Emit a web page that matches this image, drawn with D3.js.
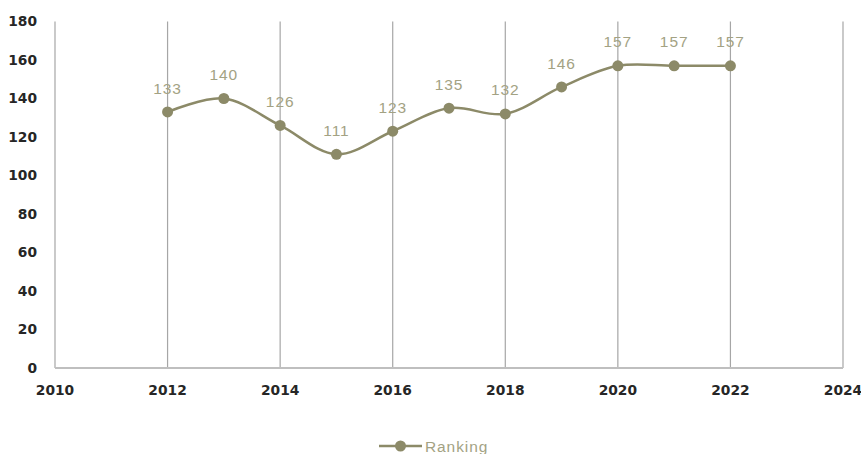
<!DOCTYPE html>
<html><head><meta charset="utf-8">
<script src="https://cdn.jsdelivr.net/npm/d3@7"></script>
<style>
body{margin:0;background:#fff;}
svg{display:block;}
</style></head>
<body><svg id="c" width="861" height="454"></svg>
<script>
const years = [2012,2013,2014,2015,2016,2017,2018,2019,2020,2021,2022];
const ranking = [133,140,126,111,123,135,132,146,157,157,157];
const xTicks = [2010,2012,2014,2016,2018,2020,2022,2024];
const yTicks = [0,20,40,60,80,100,120,140,160,180];
const seriesName = "Ranking";

const svg = d3.select("#c");
const x = d3.scaleLinear().domain([2010,2024]).range([55,843]);
const y = d3.scaleLinear().domain([0,180]).range([368,21.5]);
const lineColor = "#8c8a68", labelColor = "#a3a283";
const font = "'Liberation Sans', Arial, sans-serif";
const boldFont = "'DejaVu Sans', sans-serif";

// vertical gridlines
svg.append("g").selectAll("line").data(xTicks).join("line")
  .attr("x1",d=>x(d)).attr("x2",d=>x(d))
  .attr("y1",y(180)).attr("y2",y(0))
  .attr("stroke","#a6a6a6").attr("stroke-width",1.2);

// bottom axis line
svg.append("line").attr("x1",x(2010)).attr("x2",x(2024))
  .attr("y1",y(0)).attr("y2",y(0)).attr("stroke","#bfbfbf").attr("stroke-width",2);

// y tick labels
svg.append("g").selectAll("text").data(yTicks).join("text")
  .attr("x",37).attr("y",d=>y(d)).attr("dy","0.36em")
  .attr("text-anchor","end").attr("font-family",boldFont).attr("font-weight","bold")
  .attr("font-size",13.8).attr("fill","#262626").text(d=>d);

// x tick labels
svg.append("g").selectAll("text").data(xTicks).join("text")
  .attr("x",d=>x(d)).attr("y",390).attr("dy","0.36em")
  .attr("text-anchor","middle").attr("font-family",boldFont).attr("font-weight","bold")
  .attr("font-size",13.8).attr("fill","#262626").text(d=>d);

const data = years.map((d,i)=>({year:d,value:ranking[i]}));
const line = d3.line().x(d=>x(d.year)).y(d=>y(d.value)).curve(d3.curveCatmullRom.alpha(0.5));
svg.append("path").datum(data).attr("d",line).attr("fill","none")
  .attr("stroke",lineColor).attr("stroke-width",2.5);
svg.append("g").selectAll("circle").data(data).join("circle")
  .attr("cx",d=>x(d.year)).attr("cy",d=>y(d.value)).attr("r",5.5).attr("fill",lineColor);
svg.append("g").selectAll("text").data(data).join("text")
  .attr("x",d=>x(d.year)).attr("y",d=>y(d.value)-24).attr("dy","0.36em")
  .attr("text-anchor","middle").attr("font-family",font).attr("letter-spacing",0.9)
  .attr("font-size",15.5).attr("fill",labelColor).text(d=>d.value);

// legend
const lg = svg.append("g");
lg.append("line").attr("x1",379).attr("x2",422).attr("y1",446).attr("y2",446)
  .attr("stroke",lineColor).attr("stroke-width",2.5);
lg.append("circle").attr("cx",400.5).attr("cy",446).attr("r",5.5).attr("fill",lineColor);
lg.append("text").attr("x",425).attr("y",446).attr("dy","0.36em").attr("letter-spacing",0.9)
  .attr("font-family",font).attr("font-size",15.5).attr("fill",labelColor).text(seriesName);
</script></body></html>
